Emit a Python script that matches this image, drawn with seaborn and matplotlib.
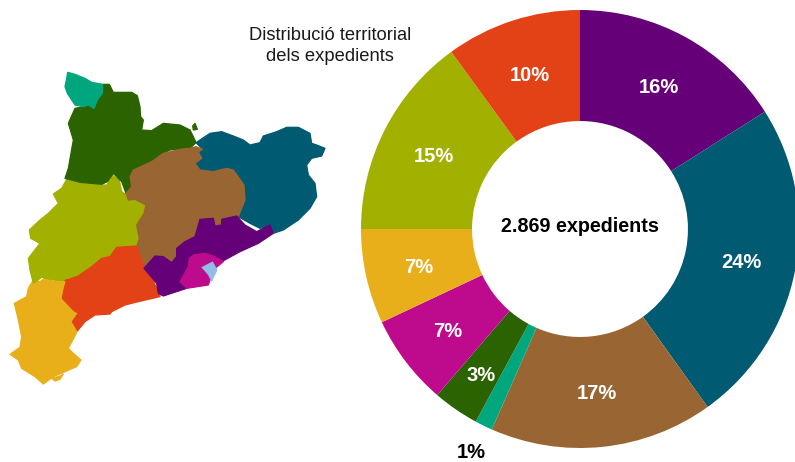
import numpy as np
import matplotlib
matplotlib.use("Agg")
import matplotlib.pyplot as plt
from matplotlib.patches import Polygon
import seaborn as sns

W, H = 795, 462
regions = ["Metropolità Nord", "Girona", "Catalunya Central", "Val d'Aran", "Alt Pirineu",
           "Metropolità Sud", "Terres de l'Ebre", "Ponent", "Camp de Tarragona"]
shares = [16.0, 24.1, 16.5, 1.3, 3.4, 6.7, 7.0, 15.0, 10.0]
share_labels = ["16%", "24%", "17%", "1%", "3%", "7%", "7%", "15%", "10%"]
label_radius = [0.75, 0.75, 0.745, 1.125, 0.80, 0.76, 0.755, 0.75, 0.745]
colors = ["#660078", "#005A72", "#996633", "#00A77E", "#2B6300", "#BE0A8C", "#E9AF1A", "#A2B000", "#E24216"]
centre_text = "2.869 expedients"
title_text = "Distribució territorial\ndels expedients"


def crop(ox, oy):
    return lambda pts: [(ox + x / 3, oy + y / 3) for x, y in pts]


c1, c2, c3, c4, c5 = crop(20, 65), crop(170, 120), crop(20, 170), crop(5, 270), crop(130, 210)

# Map outlines
aran = c1([(143,22),(165,28),(195,40),(215,52),(248,58),(247,85),(232,105),(222,130),(205,120),(190,125),(165,120),(152,100),(142,85),(135,65),(140,40)])
pirineu = (c1([(248,58),(268,58),(280,82),(335,82),(352,92),(360,125),(362,155),(370,165),(365,195),(395,197),(430,175),(480,180)])
           + c2([(60,30),(70,50),(78,68),(60,85),(0,90)])
           + c1([(430,265),(395,290),(340,315),(330,335),(335,365),(318,385),(305,350),(280,325),(262,350),(245,358),(180,352),(135,340),(145,310),(160,225),(145,175),(165,130),(190,125),(205,120),(222,130),(232,105),(247,85)]))
islet = c2([(68,18),(75,10),(82,28),(70,30)])
ponent = c3([(140,28),(200,40),(245,45),(262,45),(272,12),(298,30),(305,65),(320,75),(325,90),(345,88),(378,105),(372,130),(350,165),(358,205),(350,230),(290,232),(270,260),(245,265),(215,290),(175,318),(135,332),(100,330),(65,322),(40,340),(30,300),(25,265),(60,220),(32,205),(28,180),(60,150),(85,130),(115,100),(100,72),(125,55)])
girona = c2([(78,68),(120,40),(155,35),(190,48),(220,60),(240,75),(270,68),(280,48),(320,35),(350,22),(385,22),(420,40),(425,70),(440,75),(465,85),(455,108),(425,115),(410,135),(415,165),(435,190),(440,230),(420,265),(385,300),(340,330),(310,340),(300,318),(270,325),(240,310),(205,290),(225,240),(222,195),(190,150),(170,145),(130,155),(90,150),(75,130),(95,115),(85,95),(98,88)])
central = (c2([(78,80),(98,88),(85,95),(95,115),(75,130),(90,150),(130,155),(170,145),(190,150),(222,195),(225,240),(205,290)])
           + c5([(320,60),(210,60),(195,85),(165,100),(145,118),(145,140),(125,165),(100,150),(75,145),(42,180)])
           + c3([(372,290),(350,230),(358,205),(350,165),(372,130),(378,105),(345,88),(325,90),(320,75)])
           + c1([(318,385),(335,365),(330,335),(340,315),(395,290),(430,265),(480,253)])
           + c2([(60,85)]))
camp = (c3([(290,232),(350,228),(362,265),(372,290),(395,315),(405,345),(418,362)])
        + c4([(465,80),(400,95),(360,105),(320,125),(315,132),(270,135),(240,155),(218,182),(202,155),(220,130),(205,120),(172,85),(178,55),(185,30)])
        + c3([(135,332),(175,318),(215,290),(245,265),(270,260)]))
ebre = c4([(85,30),(105,35),(125,20),(145,35),(165,28),(185,30),(172,85),(205,120),(220,130),(202,155),(218,182),(190,235),(205,250),(228,270),(215,290),(180,305),(145,320),(115,342),(90,320),(50,295),(40,270),(15,253),(45,232),(50,200),(40,150),(28,100),(65,80),(70,55)])
ebre_islet = c4([(140,325),(165,318),(175,312),(165,328),(150,333)])
metro_n = c5([(210,28),(250,25),(255,48),(275,45),(275,28),(320,18),(345,45),(380,65),(420,45),(430,70),(385,100),(330,125),(275,155),(255,140),(225,130),(190,135),(178,145),(175,170),(150,215),(170,235),(100,258),(85,250),(80,220),(42,175),(75,138),(100,140),(125,158),(140,140),(140,115),(165,95),(195,80)])
metro_s = c5([(178,145),(190,135),(225,130),(255,140),(280,155),(255,175),(240,210),(235,225),(170,235),(150,215),(175,170)])
bcn = c5([(215,172),(248,155),(262,180),(245,215),(235,195)])
map_shapes = [(ebre, 6), (ebre_islet, 6), (ponent, 7), (pirineu, 4), (islet, 4), (aran, 3), (girona, 1),
              (central, 2), (camp, 8), (metro_n, 0), (metro_s, 5)]

sns.set_theme(style="white")
plt.rcParams["font.family"] = ["Liberation Sans", "DejaVu Sans"]
fig = plt.figure(figsize=(W / 100, H / 100), dpi=100)

bg = fig.add_axes([0, 0, 1, 1])
bg.set_xlim(0, W)
bg.set_ylim(H, 0)
bg.axis("off")
for pts, ci in map_shapes:
    bg.add_patch(Polygon(pts, closed=True, fc=colors[ci], ec=colors[ci], lw=0.9, joinstyle="round"))
bg.add_patch(Polygon(bcn, closed=True, fc="#93BDE6", ec="#93BDE6", lw=0.3))

cx, cy, R = 580, 229, 219
ax = fig.add_axes([(cx - R) / W, 1 - (cy + R) / H, 2 * R / W, 2 * R / H])
wedges, _ = ax.pie(shares, colors=colors, startangle=90, counterclock=False, radius=1,
                   wedgeprops=dict(width=0.507, linewidth=0))
ax.set_xlim(-1, 1)
ax.set_ylim(-1, 1)
ax.set_aspect("equal")
ax.patch.set_alpha(0)

for w, lab, r in zip(wedges, share_labels, label_radius):
    t = np.deg2rad((w.theta1 + w.theta2) / 2)
    outer = r > 1
    ax.text(r * np.cos(t), r * np.sin(t) - 0.009, lab, ha="center", va="center", clip_on=False,
            color="black" if outer else "white", fontsize=14.5, fontweight="bold")
ax.text(0, 0.01, centre_text, ha="center", va="center", fontsize=14.2, fontweight="bold", color="black")

bg.set_zorder(2)
bg.patch.set_alpha(0)
bg.text(330, 46, title_text, ha="center", va="center", fontsize=13.2, color="#1a1a1a", linespacing=1.38)

fig.savefig("out.png", dpi=100)
